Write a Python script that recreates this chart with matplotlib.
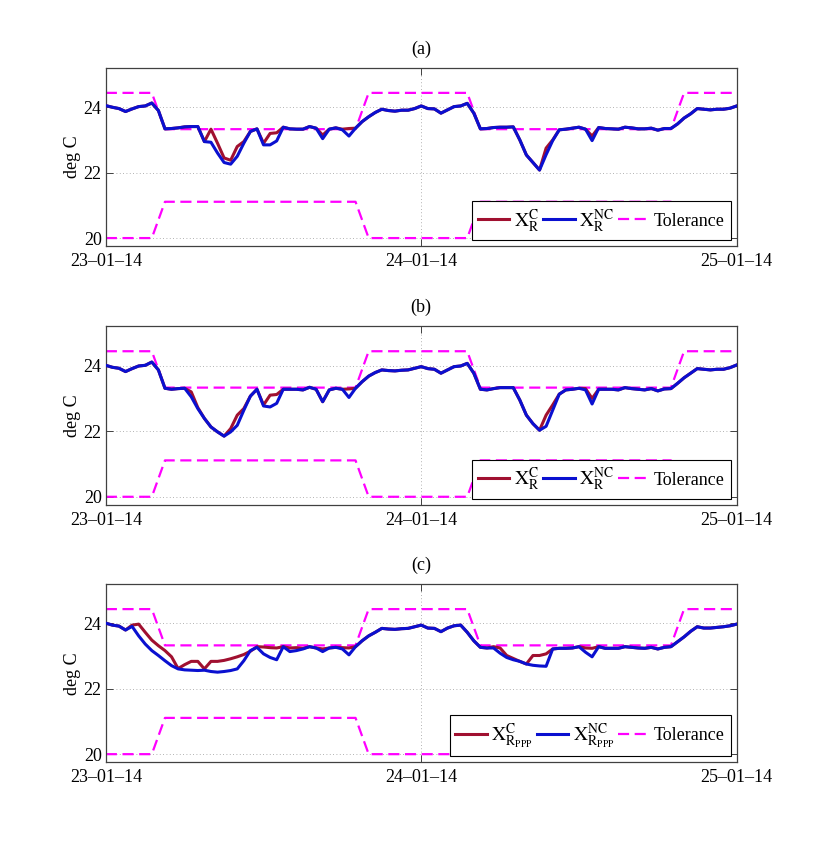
import numpy as np
import matplotlib
matplotlib.use('Agg')
import matplotlib.pyplot as plt

plt.rcParams['font.family'] = ['Liberation Serif', 'DejaVu Serif']
plt.rcParams['mathtext.fontset'] = 'stix'

# time grid (hours since 23-01-14 00:00), half-hourly samples
hours = np.arange(0, 48.5, 0.5)

xtick_pos = [0, 24, 48]
xtick_labels = ['23\u201301\u201314', '24\u201301\u201314', '25\u201301\u201314']
ytick_pos = [20, 22, 24]

# comfort tolerance band
tol_hours = [0, 3.5, 4.5, 19, 20, 27.5, 28.5, 43, 44, 48]
tol_upper = [24.44, 24.44, 23.33, 23.33, 24.44, 24.44, 23.33, 23.33, 24.44, 24.44]
tol_lower = [20.0, 20.0, 21.11, 21.11, 20.0, 20.0, 21.11, 21.11, 20.0, 20.0]

# panel (a)
a_nc = [24.05, 24.00, 23.96, 23.87, 23.95, 24.02, 24.04, 24.13, 23.90, 23.34,
        23.35, 23.37, 23.40, 23.41, 23.41, 22.95, 22.93, 22.60, 22.31, 22.26,
        22.50, 22.90, 23.26, 23.34, 22.85, 22.85, 22.97, 23.39, 23.34, 23.33,
        23.33, 23.41, 23.36, 23.04, 23.33, 23.37, 23.31, 23.12, 23.36, 23.56,
        23.71, 23.84, 23.94, 23.90, 23.88, 23.91, 23.91, 23.96, 24.04,
        23.96, 23.95, 23.82, 23.92, 24.02, 24.04, 24.12, 23.82, 23.34, 23.35,
        23.38, 23.39, 23.39, 23.40, 23.00, 22.54, 22.31, 22.08, 22.55, 22.98,
        23.31, 23.33, 23.36, 23.39, 23.33, 22.98, 23.38, 23.35, 23.34, 23.33,
        23.39, 23.37, 23.34, 23.34, 23.36, 23.30, 23.35, 23.35, 23.49, 23.67,
        23.80, 23.96, 23.94, 23.92, 23.94, 23.94, 23.97, 24.04]
a_c = [24.05, 24.00, 23.96, 23.87, 23.95, 24.02, 24.04, 24.13, 23.90, 23.34,
       23.35, 23.37, 23.40, 23.41, 23.41, 22.95, 23.33, 22.90, 22.45, 22.38,
       22.80, 22.95, 23.26, 23.34, 22.90, 23.20, 23.22, 23.39, 23.34, 23.33,
       23.33, 23.41, 23.36, 23.15, 23.33, 23.37, 23.33, 23.35, 23.36, 23.56,
       23.71, 23.84, 23.94, 23.90, 23.88, 23.91, 23.91, 23.96, 24.04,
       23.96, 23.95, 23.82, 23.92, 24.02, 24.04, 24.12, 23.82, 23.34, 23.35,
       23.38, 23.39, 23.39, 23.40, 23.00, 22.54, 22.31, 22.08, 22.75, 23.00,
       23.31, 23.33, 23.36, 23.39, 23.33, 23.12, 23.38, 23.35, 23.34, 23.33,
       23.39, 23.37, 23.34, 23.34, 23.36, 23.30, 23.35, 23.35, 23.49, 23.67,
       23.80, 23.96, 23.94, 23.92, 23.94, 23.94, 23.97, 24.04]

# panel (b)
b_nc = [24.01, 23.95, 23.92, 23.82, 23.91, 23.99, 24.01, 24.11, 23.87, 23.31,
        23.28, 23.30, 23.31, 23.05, 22.69, 22.39, 22.13, 21.98, 21.85, 21.98,
        22.18, 22.64, 23.07, 23.28, 22.77, 22.74, 22.85, 23.28, 23.28, 23.28,
        23.26, 23.34, 23.28, 22.90, 23.26, 23.31, 23.28, 23.03, 23.31, 23.51,
        23.68, 23.79, 23.87, 23.85, 23.84, 23.86, 23.87, 23.92, 23.97,
        23.91, 23.89, 23.77, 23.87, 23.97, 23.99, 24.07, 23.77, 23.28, 23.26,
        23.30, 23.33, 23.33, 23.33, 22.95, 22.49, 22.23, 22.03, 22.15, 22.64,
        23.13, 23.26, 23.28, 23.31, 23.26, 22.83, 23.28, 23.28, 23.28, 23.26,
        23.33, 23.30, 23.28, 23.26, 23.30, 23.23, 23.29, 23.30, 23.46, 23.63,
        23.77, 23.91, 23.89, 23.87, 23.89, 23.89, 23.94, 24.02]
b_c = [24.01, 23.95, 23.92, 23.82, 23.91, 23.99, 24.01, 24.11, 23.87, 23.31,
       23.28, 23.30, 23.31, 23.20, 22.72, 22.39, 22.13, 21.98, 21.85, 22.08,
       22.49, 22.69, 23.07, 23.28, 22.80, 23.10, 23.12, 23.28, 23.28, 23.28,
       23.26, 23.34, 23.28, 22.90, 23.26, 23.31, 23.28, 23.29, 23.31, 23.51,
       23.68, 23.79, 23.87, 23.85, 23.84, 23.86, 23.87, 23.92, 23.97,
       23.91, 23.89, 23.77, 23.87, 23.97, 23.99, 24.07, 23.77, 23.28, 23.26,
       23.30, 23.33, 23.33, 23.33, 22.95, 22.49, 22.23, 22.03, 22.49, 22.80,
       23.13, 23.26, 23.28, 23.31, 23.30, 23.00, 23.28, 23.28, 23.28, 23.26,
       23.33, 23.30, 23.28, 23.26, 23.30, 23.23, 23.29, 23.30, 23.46, 23.63,
       23.77, 23.91, 23.89, 23.87, 23.89, 23.89, 23.94, 24.02]

# panel (c)
c_nc = [24.01, 23.95, 23.92, 23.80, 23.91, 23.62, 23.37, 23.17, 23.02, 22.86,
        22.71, 22.61, 22.58, 22.57, 22.56, 22.57, 22.53, 22.51, 22.53, 22.56,
        22.61, 22.86, 23.17, 23.27, 23.07, 22.96, 22.89, 23.29, 23.14, 23.17,
        23.22, 23.29, 23.25, 23.14, 23.25, 23.27, 23.22, 23.04, 23.29, 23.47,
        23.62, 23.73, 23.85, 23.83, 23.82, 23.84, 23.85, 23.90, 23.95,
        23.86, 23.85, 23.75, 23.86, 23.93, 23.95, 23.73, 23.47, 23.27, 23.25,
        23.25, 23.09, 22.96, 22.89, 22.84, 22.76, 22.72, 22.70, 22.69, 23.22,
        23.24, 23.24, 23.25, 23.29, 23.12, 22.98, 23.29, 23.24, 23.24, 23.24,
        23.29, 23.27, 23.25, 23.24, 23.27, 23.22, 23.27, 23.29, 23.44, 23.59,
        23.76, 23.90, 23.86, 23.86, 23.88, 23.90, 23.93, 23.98]
c_c = [24.01, 23.95, 23.92, 23.80, 23.95, 23.98, 23.73, 23.49, 23.32, 23.17,
       22.98, 22.62, 22.74, 22.84, 22.84, 22.61, 22.84, 22.84, 22.87, 22.92,
       22.98, 23.05, 23.15, 23.29, 23.28, 23.26, 23.25, 23.29, 23.25, 23.26,
       23.24, 23.29, 23.25, 23.22, 23.25, 23.27, 23.26, 23.25, 23.29, 23.47,
       23.62, 23.73, 23.85, 23.83, 23.82, 23.84, 23.85, 23.90, 23.95,
       23.86, 23.85, 23.75, 23.86, 23.93, 23.95, 23.73, 23.47, 23.27, 23.25,
       23.29, 23.25, 23.02, 22.93, 22.84, 22.76, 23.02, 23.02, 23.07, 23.22,
       23.24, 23.24, 23.25, 23.29, 23.25, 23.24, 23.29, 23.24, 23.24, 23.24,
       23.29, 23.27, 23.25, 23.24, 23.27, 23.22, 23.27, 23.29, 23.44, 23.59,
       23.76, 23.90, 23.86, 23.86, 23.88, 23.90, 23.93, 23.98]

panels = [
    ('(a)', a_c, a_nc, r'$\mathrm{X}_{\mathrm{R}}^{\mathrm{C}}$', r'$\mathrm{X}_{\mathrm{R}}^{\mathrm{NC}}$'),
    ('(b)', b_c, b_nc, r'$\mathrm{X}_{\mathrm{R}}^{\mathrm{C}}$', r'$\mathrm{X}_{\mathrm{R}}^{\mathrm{NC}}$'),
    ('(c)', c_c, c_nc, r'$\mathrm{X}_{\mathrm{R}_{\mathrm{PPP}}}^{\mathrm{C}}$',
     r'$\mathrm{X}_{\mathrm{R}_{\mathrm{PPP}}}^{\mathrm{NC}}$'),
]

RED = '#A01030'
BLUE = '#0A10D0'
MAG = '#FF00FF'
SPINE = '#404040'

fig = plt.figure(figsize=(8.14, 8.61), dpi=100)
boxes = [(0.130, 0.714, 0.775, 0.207),
         (0.130, 0.4135, 0.775, 0.2075),
         (0.130, 0.1146, 0.775, 0.2068)]

for (title, yc, ync, lc, lnc), box in zip(panels, boxes):
    ax = fig.add_axes(box)
    l1, = ax.plot(hours, yc, color=RED, lw=2.2, label=lc, zorder=3)
    l2, = ax.plot(hours, ync, color=BLUE, lw=2.2, label=lnc, zorder=4)
    l3, = ax.plot(tol_hours, tol_upper, color=MAG, lw=1.6, ls=(0, (5, 2.5)),
                  label='Tolerance', zorder=2)
    ax.plot(tol_hours, tol_lower, color=MAG, lw=1.6, ls=(0, (5, 2.5)), zorder=2)
    ax.set_xlim(0, 48)
    ax.set_ylim(19.75, 25.2)
    ax.set_xticks(xtick_pos)
    ax.set_xticklabels(xtick_labels)
    ax.set_yticks(ytick_pos)
    ax.tick_params(direction='in', top=True, right=True, length=5, width=0.7,
                   colors=SPINE, labelcolor='black', labelsize=13)
    ax.tick_params(axis='y', pad=3)
    ax.tick_params(axis='x', pad=5)
    for s in ax.spines.values():
        s.set_color(SPINE)
        s.set_linewidth(0.9)
    ax.grid(True, ls=(0, (1, 3)), color='#999999', lw=0.6)
    ax.set_axisbelow(True)
    ax.set_title(title, fontsize=13, pad=10)
    ax.set_ylabel('deg C', fontsize=13, labelpad=2)
    leg = ax.legend(handles=[l1, l2, l3], ncol=3, loc='lower right', fontsize=14,
                    frameon=True, fancybox=False, framealpha=1, edgecolor='black',
                    handlelength=1.6, handletextpad=0.25, columnspacing=0.2,
                    borderpad=0.3, borderaxespad=0.3)
    for t in leg.get_texts():
        if t.get_text() == 'Tolerance':
            t.set_fontsize(13)
    leg.get_frame().set_linewidth(0.8)
    leg.set_zorder(10)

fig.savefig('out.png', dpi=100)
